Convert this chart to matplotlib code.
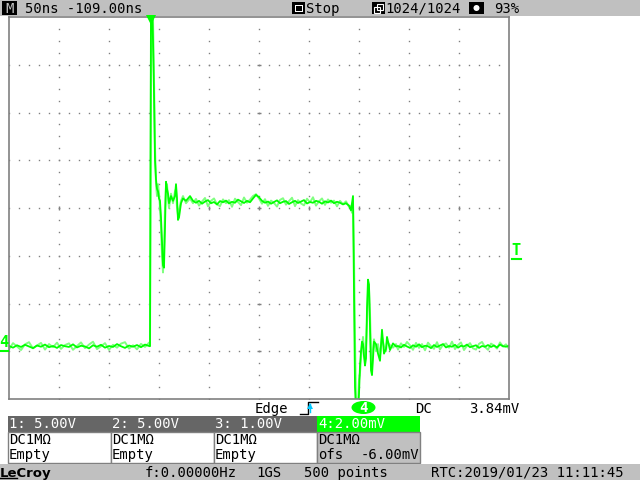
import matplotlib
matplotlib.use('Agg')
import matplotlib.pyplot as plt
import numpy as np
from matplotlib.patches import Rectangle, Ellipse

plt.rcParams['font.family'] = ['DejaVu Sans Mono', 'DejaVu Sans']

# channel 4 capture, time in ns relative to trigger, level in mV
base_t = list(range(-141, 0, 4))
base_a = [0.22, 0.15, 0.25, 0.18, 0.27, 0.20, 0.13, 0.24, 0.19, 0.28, 0.17, 0.22,
          0.14, 0.26, 0.21, 0.18, 0.29, 0.16, 0.23, 0.20, 0.12, 0.25, 0.19, 0.27,
          0.15, 0.22, 0.18, 0.30, 0.21, 0.14, 0.24, 0.19, 0.26, 0.17, 0.28, 0.22]
base_b = [0.08, 0.34, 0.20, 0.05, 0.29, 0.38, 0.12, 0.24, 0.35, 0.07, 0.30, 0.17,
          0.36, 0.10, 0.26, 0.33, 0.06, 0.22, 0.37, 0.13, 0.28, 0.40, 0.09, 0.21,
          0.34, 0.06, 0.27, 0.15, 0.32, 0.38, 0.11, 0.25, 0.08, 0.31, 0.18, 0.36]

rise_t = [0, 1, 2, 3, 4, 5, 6, 7, 8, 9, 10, 11, 12, 13, 14, 15, 16, 17, 18, 19,
          21, 23, 25, 26, 27, 28, 29, 31, 33, 36, 40, 43]
rise_a = [0.21, 14.6, 14.6, 13.0, 10.8, 8.0, 7.2, 6.8, 6.7, 6.4, 6.3, 5.6, 4.6, 3.6,
          3.5, 5.2, 7.1, 6.8, 6.6, 6.2, 6.5, 6.3, 6.5, 7.0, 6.4, 5.5, 5.6, 6.2, 6.4,
          6.3, 6.5, 6.3]
rise_b = [0.24, 12.0, 14.6, 14.0, 11.5, 8.6, 7.0, 6.5, 7.0, 6.6, 6.0, 5.2, 4.0, 3.3,
          4.2, 6.0, 6.9, 7.0, 6.4, 6.0, 6.6, 6.2, 6.7, 6.8, 6.0, 5.7, 5.9, 6.3, 6.5,
          6.2, 6.4, 6.2]

plat_t = list(range(46, 200, 3))
plat_a = [6.22, 6.30, 6.18, 6.27, 6.33, 6.20, 6.25, 6.15, 6.29, 6.24,
          6.31, 6.19, 6.26, 6.22, 6.35, 6.28, 6.21, 6.30, 6.24, 6.40,
          6.55, 6.45, 6.30, 6.22, 6.27, 6.18, 6.25, 6.32, 6.20, 6.26,
          6.29, 6.17, 6.24, 6.30, 6.21, 6.27, 6.33, 6.19, 6.25, 6.22,
          6.30, 6.26, 6.18, 6.28, 6.23, 6.31, 6.20, 6.26, 6.22, 6.15,
          6.20, 6.10]
plat_b = [6.38, 6.10, 6.27, 6.42, 6.07, 6.30, 6.40, 6.15, 6.08, 6.36,
          6.20, 6.33, 6.05, 6.39, 6.25, 6.12, 6.44, 6.22, 6.35, 6.50,
          6.58, 6.40, 6.18, 6.37, 6.09, 6.31, 6.21, 6.06, 6.34, 6.41,
          6.14, 6.29, 6.43, 6.08, 6.33, 6.19, 6.11, 6.39, 6.24, 6.45,
          6.10, 6.28, 6.40, 6.13, 6.36, 6.22, 6.31, 6.07, 6.30, 6.16,
          6.28, 6.05]

fall_t = [200, 201, 202, 203, 204, 205, 206, 207, 208, 209, 210, 211, 212, 213,
          214, 215, 216, 217, 218, 219, 220, 221, 222, 223, 224, 226, 228, 230,
          232, 234, 236, 237, 240, 243, 246]
fall_a = [6.0, 5.9, 6.2, 6.5, 2.5, -1.5, -2.5, -2.5, -2.5, -1.8, -0.6, 0.0, 0.4, 0.3,
          -0.2, -0.6, -0.3, 1.8, 3.0, 2.8, 1.0, -0.8, -1.0, -0.3, 0.4, 0.3, -0.1, -0.4,
          0.9, -0.1, 0.1, 0.6, 0.05, 0.33, 0.2]
fall_b = [6.1, 6.0, 5.8, 6.3, 4.0, 0.5, -2.0, -2.5, -2.2, -1.2, -0.9, -0.3, 0.2, 0.6,
          0.1, -0.4, 0.2, 1.2, 2.4, 2.6, 1.6, 0.0, -0.6, 0.1, 0.5, 0.0, 0.3, -0.2,
          0.6, 0.2, 0.0, 0.4, 0.25, 0.15, 0.3]

tail_t = list(range(248, 360, 3))
tail_a = [0.22, 0.16, 0.27, 0.20, 0.14, 0.25, 0.19, 0.29, 0.17, 0.23,
          0.21, 0.13, 0.26, 0.18, 0.24, 0.30, 0.16, 0.22, 0.19, 0.27,
          0.15, 0.23, 0.20, 0.28, 0.17, 0.21, 0.25, 0.14, 0.22, 0.19,
          0.26, 0.18, 0.24, 0.16, 0.28, 0.21, 0.19, 0.23]
tail_b = [0.07, 0.33, 0.18, 0.39, 0.25, 0.06, 0.35, 0.14, 0.30, 0.04,
          0.36, 0.21, 0.10, 0.38, 0.08, 0.27, 0.33, 0.15, 0.40, 0.09,
          0.26, 0.37, 0.05, 0.23, 0.34, 0.12, 0.07, 0.31, 0.39, 0.18,
          0.06, 0.32, 0.24, 0.11, 0.37, 0.20, 0.29, 0.10]

t_all = base_t + rise_t + plat_t + fall_t + tail_t
trace_a = base_a + rise_a + plat_a + fall_a + tail_a
trace_b = base_b + rise_b + plat_b + fall_b + tail_b

T_MIN, T_MAX = -141, 359     # 50 ns/div, delay -109 ns
V_MIN, V_MAX = -2, 14        # 2 mV/div, offset -6 mV

GREY = '#c0c0c0'
GREEN = '#00ff00'


def box(x0, y0, w, h):
    return [x0 / 640, 1 - (y0 + h) / 480, w / 640, h / 480]


fig = plt.figure(figsize=(6.4, 4.8), dpi=100)
fig.patch.set_facecolor('white')

ax = fig.add_axes(box(9, 17, 500, 382))
ax.set_xlim(T_MIN, T_MAX)
ax.set_ylim(V_MIN, V_MAX)
ax.set_xticks([])
ax.set_yticks([])
for s in ax.spines.values():
    s.set_color('#808080')
    s.set_linewidth(1.2)

# dotted graticule
gx = np.linspace(T_MIN, T_MAX, 11)[1:-1]
gy = np.linspace(V_MIN, V_MAX, 9)[1:-1]
yy = np.arange(V_MIN, V_MAX, 0.5)
for x in gx:
    ax.plot(np.full(len(yy), x), yy, ls='none', marker='s', ms=1.0, mew=0, color='#808080')
xx = np.arange(T_MIN, T_MAX, 10)
for y in gy:
    ax.plot(xx, np.full(len(xx), y), ls='none', marker='s', ms=1.0, mew=0, color='#808080')
ax.plot(gx, np.full(len(gx), gy[3]), ls='none', marker='|', ms=3, mew=1, color='#808080')
ax.plot(np.full(len(gy), gx[4]), gy, ls='none', marker='_', ms=3, mew=1, color='#808080')

ax.plot(t_all, trace_b, color='#80ff80', lw=1.4)
ax.plot(t_all, trace_a, color=GREEN, lw=1.3)

# screen furniture in pixel coordinates
ov = fig.add_axes([0, 0, 1, 1])
ov.set_xlim(0, 640)
ov.set_ylim(480, 0)
ov.axis('off')
ov.set_zorder(5)

fs = 10
ov.add_patch(Rectangle((0, 0), 640, 15.5, fc=GREY, ec='none'))
ov.add_patch(Rectangle((2, 1), 15, 14, fc='black', ec='none'))
ov.text(9.5, 13, 'M', color=GREY, fontsize=fs, ha='center')
ov.text(25, 13, '50ns -109.00ns', fontsize=fs)
ov.add_patch(Rectangle((292, 2), 13, 12, fc='black', ec='none'))
ov.add_patch(Rectangle((294.5, 4.5), 8, 7, fc='white', ec='none'))
ov.add_patch(Rectangle((295.5, 5.5), 6, 5, fc='black', ec='none'))
ov.text(306, 13, 'Stop', fontsize=fs)
ov.add_patch(Rectangle((372, 2), 13, 12, fc='black', ec='none'))
ov.add_patch(Rectangle((374, 6.5), 6, 6, fc='none', ec='white', lw=0.8))
ov.add_patch(Rectangle((377, 3.5), 6, 6, fc='none', ec='white', lw=0.8))
ov.text(385, 13, '1024/1024', fontsize=fs)
ov.add_patch(Rectangle((469, 2), 15, 12, fc='black', ec='none'))
ov.add_patch(Ellipse((476.5, 8), 6, 6, fc='white', ec='none'))
ov.text(494, 13, '93%', fontsize=fs)

# markers on the graticule
ov.plot(150.5, 20, marker='v', ms=7, color=GREEN, mew=0)
ov.text(4, 347, '4', color=GREEN, fontsize=fs + 1, fontweight='bold', ha='center')
ov.plot([1, 8], [351, 351], color=GREEN, lw=1.5)
ov.text(516, 255, 'T', color=GREEN, fontsize=fs + 1, fontweight='bold', ha='center')
ov.plot([512, 521], [258.5, 258.5], color=GREEN, lw=1.5)

# trigger line
ov.text(255, 413, 'Edge', fontsize=fs)
ov.plot([300, 308, 308, 318], [414, 414, 402, 402], color='black', lw=1)
ov.plot([310, 310], [404, 412], color='#00c8ff', lw=1)
ov.plot(310, 406, marker='^', ms=5, color='#00c8ff', mew=0)
ov.add_patch(Ellipse((363.5, 407.5), 24, 13, fc=GREEN, ec='none'))
ov.text(363.5, 412.5, '4', color='white', fontsize=fs, fontweight='bold', ha='center')
ov.text(415, 413, 'DC', fontsize=fs)
ov.text(469, 413, '3.84mV', fontsize=fs)

# channel panels
panel_x = [8, 111, 214, 317]
heads = ['1: 5.00V', '2: 5.00V', '3: 1.00V', '4:2.00mV']
lows = ['Empty', 'Empty', 'Empty', 'ofs']
for i, x0 in enumerate(panel_x):
    hc = GREEN if i == 3 else '#666666'
    bc = GREY if i == 3 else 'white'
    ov.add_patch(Rectangle((x0, 416), 103, 15.5, fc=hc, ec='none'))
    ov.add_patch(Rectangle((x0, 431.5), 103, 31.5, fc=bc, ec='#808080', lw=1))
    ov.text(x0 + 1, 428, heads[i], color='white', fontsize=fs)
    ov.text(x0 + 1, 444, 'DC1MΩ', fontsize=fs)
    ov.text(x0 + 1, 459, lows[i], fontsize=fs)
ov.text(419, 459, '-6.00mV', fontsize=fs, ha='right')

# status bar
ov.add_patch(Rectangle((0, 463.5), 640, 17, fc=GREY, ec='none'))
ov.text(0, 477, 'LeCroy', fontsize=9.5, fontweight='bold', family='DejaVu Sans')
ov.plot([0, 17], [478, 478], color='black', lw=1)
ov.text(145, 477, 'f:0.00000Hz', fontsize=fs)
ov.text(256, 477, '1GS', fontsize=fs)
ov.text(304, 477, '500 points', fontsize=fs)
ov.text(431, 477, 'RTC:2019/01/23 11:11:45', fontsize=fs)

fig.savefig('out.png', dpi=100)
